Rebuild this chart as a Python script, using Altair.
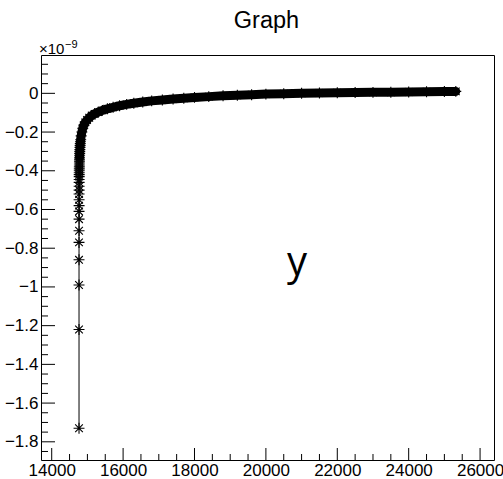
import altair as alt
import pandas as pd

# Graph points (y in units of 1e-9)
x_vals = [14765, 14765, 14765, 14765, 14765, 14766, 14766, 14766, 14767, 14767,
          14767, 14768, 14768, 14769, 14769, 14770, 14770, 14771, 14772, 14773,
          14774, 14775, 14776, 14777, 14778, 14780, 14782, 14784, 14786, 14789,
          14792, 14796, 14800, 14805,
          14812, 14825, 14845, 14870, 14900, 14940, 14990, 15050, 15120, 15200,
          15300, 15420, 15560, 15720, 15900, 16100, 16300, 16550, 16800, 17100,
          17400, 17700, 18000, 18400, 18800, 19200, 19600, 20000, 20500, 21000,
          21500, 22000, 22500, 23000, 23500, 24000, 24500, 25000, 25320]
y_vals = [-1.73, -1.22, -0.99, -0.86, -0.77, -0.71, -0.65, -0.61, -0.58, -0.55,
          -0.52, -0.50, -0.48, -0.46, -0.445, -0.43, -0.42, -0.41, -0.40, -0.39,
          -0.38, -0.37, -0.36, -0.35, -0.34, -0.33, -0.32, -0.31, -0.30, -0.29,
          -0.28, -0.27, -0.26, -0.25,
          -0.24, -0.22, -0.20, -0.18, -0.165, -0.15, -0.138, -0.126, -0.115, -0.106,
          -0.097, -0.088, -0.080, -0.072, -0.064, -0.057, -0.051, -0.045, -0.039, -0.034,
          -0.029, -0.025, -0.021, -0.017, -0.013, -0.010, -0.007, -0.004, -0.002, 0.000,
          0.002, 0.003, 0.004, 0.005, 0.006, 0.007, 0.008, 0.009, 0.010]

x_major = [14000, 16000, 18000, 20000, 22000, 24000, 26000]
x_minor = [14500, 15000, 15500, 16500, 17000, 17500, 18500, 19000, 19500,
           20500, 21000, 21500, 22500, 23000, 23500, 24500, 25000, 25500]
y_major = [-1.8, -1.6, -1.4, -1.2, -1.0, -0.8, -0.6, -0.4, -0.2, 0.0]
y_minor = [v / 100 for v in range(-185, 20, 5) if v % 20 != 0]

W, H = 453, 405
FONT = "Liberation Sans"

df = pd.DataFrame({"x": x_vals, "y": y_vals, "i": list(range(len(x_vals)))})

xscale = alt.Scale(domain=[13700, 26390], nice=False, zero=False)
yscale = alt.Scale(domain=[-1.894, 0.198], nice=False, zero=False)

xaxis = alt.Axis(values=x_major, format="d", ticks=False, domain=False, grid=False,
                 labelFont=FONT, labelFontSize=17, labelColor="black", labelPadding=2,
                 labelFlush=False, labelOverlap=False, title=None)
yaxis = alt.Axis(values=y_major, ticks=False, domain=False, grid=False,
                 labelExpr="datum.value < -0.0001 ? '\u2212' + format(-datum.value, '.1~f') : '0'",
                 labelFont=FONT, labelFontSize=17, labelColor="black", labelPadding=3,
                 labelFlush=False, labelOverlap=False, title=None)

base = alt.Chart(df).encode(
    x=alt.X("x:Q", scale=xscale, axis=xaxis),
    y=alt.Y("y:Q", scale=yscale, axis=yaxis),
    order="i:Q",
)

thin = base.mark_line(color="black", strokeWidth=1)
band = base.transform_filter(alt.datum.y >= -0.33).mark_line(
    color="black", strokeWidth=9, strokeCap="round", strokeJoin="round")
star = "M-1,0L1,0M0,-1L0,1M-0.7,-0.7L0.7,0.7M-0.7,0.7L0.7,-0.7"
pts = base.mark_point(shape=star, filled=False, color="black", strokeWidth=1.1,
                      size=120, opacity=1)

ymaj_r = alt.Chart(pd.DataFrame({"y": y_major})).mark_rule(color="black", strokeWidth=1).encode(
    y=alt.Y("y:Q", scale=yscale, axis=yaxis), x=alt.value(0), x2=alt.value(14))
ymin_r = alt.Chart(pd.DataFrame({"y": y_minor})).mark_rule(color="black", strokeWidth=1).encode(
    y=alt.Y("y:Q", scale=yscale, axis=yaxis), x=alt.value(0), x2=alt.value(7))
xmaj_r = alt.Chart(pd.DataFrame({"x": x_major})).mark_rule(color="black", strokeWidth=1).encode(
    x=alt.X("x:Q", scale=xscale, axis=xaxis), y=alt.value(H), y2=alt.value(H - 12))
xmin_r = alt.Chart(pd.DataFrame({"x": x_minor})).mark_rule(color="black", strokeWidth=1).encode(
    x=alt.X("x:Q", scale=xscale, axis=xaxis), y=alt.value(H), y2=alt.value(H - 6))

def label(text, font, size, xpos, ypos, align="left"):
    return alt.Chart(pd.DataFrame({"t": [text]})).mark_text(
        font=font, fontSize=size, color="black", align=align, baseline="alphabetic").encode(
        text="t:N", x=alt.value(xpos), y=alt.value(ypos))

title = label("Graph", FONT, 23.5, W / 2 - 1, -27, "center")
ylabel = label("y", "Open Sans", 40, 256, 220, "center")
exp1 = label("×10", FONT, 15, -2, -1)
exp2 = label("−9", FONT, 11, 24, -7)

chart = alt.layer(thin, band, pts, ymaj_r, ymin_r, xmaj_r, xmin_r,
                  title, ylabel, exp1, exp2).properties(
    width=W, height=H,
    padding={"left": 41, "top": 55, "right": 9, "bottom": 19},
    autosize=alt.AutoSizeParams(type="none"),
    background="white",
).configure_view(stroke="black", strokeWidth=1)

chart.save("out.html", embed_options={"renderer": "svg", "actions": False})
